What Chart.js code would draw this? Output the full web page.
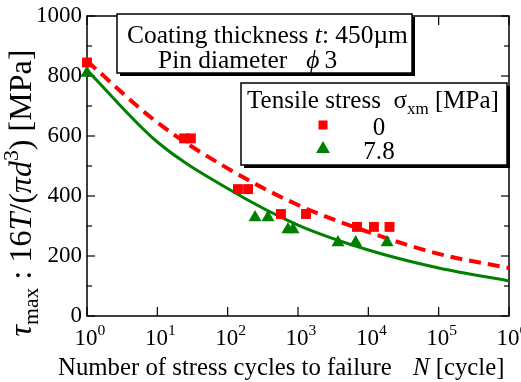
<!DOCTYPE html>
<html><head><meta charset="utf-8">
<script src="https://cdn.jsdelivr.net/npm/chart.js@4.4.1/dist/chart.umd.min.js"></script>
<style>html,body{margin:0;padding:0;background:#fff}canvas{display:block}</style>
</head><body>
<canvas id="c" width="521" height="382"></canvas>
<script>
// ---- data ----
const cyclesRed = [1, 24, 30, 140, 195, 573, 1300, 6900, 12000, 20000];
const stressRed = [845, 592, 592, 423, 423, 340, 340, 297, 297, 297];
const cyclesGreen = [1, 245, 374, 720, 850, 3700, 6600, 18500];
const stressGreen = [810, 328, 328, 288, 288, 245, 245, 245];
const fitCycles = [1, 10, 100, 1000, 10000, 100000, 1000000];
const fitRed = [850, 645, 492, 370, 280, 207, 160];
const fitGreen = [820, 580, 425, 303, 220, 160, 117];
const seriesLabels = ['0', '7.8'];
const yTicks = [0, 200, 400, 600, 800, 1000];
const yMinorStep = 100;
const xTickExponents = [0, 1, 2, 3, 4, 5, 6];

const RED = '#ff0000', GREEN = '#008000';
const SERIF = '"Liberation Serif","Times New Roman",serif';
function fnt(size, it){ return (it ? 'italic ' : '') + size + 'px ' + SERIF; }
function runsWidth(ctx, runs, size){ let w = 0; for (const r of runs){ ctx.font = fnt(size*(r.s||1), r.it); w += ctx.measureText(r.t).width; } return w; }
function drawRuns(ctx, runs, x, y, size){ let cx = x; for (const r of runs){ ctx.font = fnt(size*(r.s||1), r.it); ctx.fillText(r.t, cx, y + (r.dy||0)*size); cx += ctx.measureText(r.t).width; } return cx; }
function fitSize(ctx, runs, width){ return 100*width/runsWidth(ctx, runs, 100); }
function seg(ctx, x1, y1, x2, y2){ ctx.beginPath(); ctx.moveTo(x1, y1); ctx.lineTo(x2, y2); ctx.stroke(); }
function box(ctx, x, y, w, h){ ctx.fillStyle = '#000'; ctx.fillRect(x+3, y+3, w, h); ctx.fillStyle = '#fff'; ctx.fillRect(x, y, w, h); ctx.lineWidth = 1.5; ctx.strokeStyle = '#000'; ctx.strokeRect(x, y, w, h); }

const pts = (xs, ys) => xs.map((x, i) => ({x: x, y: ys[i]}));

const framePlugin = {
  id: 'frame',
  beforeDatasetsDraw(chart){
    const ctx = chart.ctx, {left, right, top, bottom} = chart.chartArea;
    const xs = chart.scales.x, ys = chart.scales.y;
    ctx.save();
    ctx.strokeStyle = '#000'; ctx.lineWidth = 1.5;
    ctx.strokeRect(left, top, right-left, bottom-top);
    ctx.lineWidth = 1.2;
    for (let v = ys.min; v <= ys.max; v += yMinorStep){
      const p = ys.getPixelForValue(v);
      const len = yTicks.includes(v) ? 8 : 5;
      seg(ctx, left, p, left+len, p); seg(ctx, right, p, right-len, p);
    }
    for (const e of xTickExponents){
      const p = xs.getPixelForValue(Math.pow(10, e));
      seg(ctx, p, bottom, p, bottom-9); seg(ctx, p, top, p, top+9);
    }
    // tick labels
    ctx.fillStyle = '#000';
    ctx.textAlign = 'right'; ctx.textBaseline = 'middle';
    ctx.font = fnt(23);
    for (const v of yTicks){ ctx.fillText(String(v), left-5, ys.getPixelForValue(v)); }
    ctx.textAlign = 'left'; ctx.textBaseline = 'alphabetic';
    for (const e of xTickExponents){
      const p = xs.getPixelForValue(Math.pow(10, e));
      const runs = [{t:'10'}, {t:String(e), s:0.68, dy:-0.42}];
      const w = runsWidth(ctx, runs, 23);
      drawRuns(ctx, runs, p - w/2 + 3, 345, 23);
    }
    ctx.restore();
  },
  afterDraw(chart){
    const ctx = chart.ctx;
    ctx.save();
    ctx.fillStyle = '#000'; ctx.textBaseline = 'alphabetic'; ctx.textAlign = 'left';
    // x title
    const xr1 = [{t:'Number of stress cycles to failure'}];
    const xsz = fitSize(ctx, xr1, 334);
    drawRuns(ctx, xr1, 58, 375, xsz);
    drawRuns(ctx, [{t:'N', it:1}, {t:' [cycle]'}], 413, 375, xsz);
    // y title
    const yr = [{t:'\u03c4', it:1}, {t:'max', s:0.68, dy:0.22}, {t:' : 16'}, {t:'T', it:1}, {t:'/('}, {t:'\u03c0', it:1}, {t:'d', it:1}, {t:'3', s:0.68, dy:-0.42}, {t:') [MPa]'}];
    const ysz = fitSize(ctx, yr, 287);
    ctx.save(); ctx.translate(31, 193); ctx.rotate(-Math.PI/2);
    drawRuns(ctx, yr, -143.5, 0, ysz);
    ctx.restore();
    // info box
    box(ctx, 117, 14, 295, 59);
    ctx.fillStyle = '#000';
    const l1 = [{t:'Coating thickness '}, {t:'t', it:1}, {t:': 450\u00b5m'}];
    const isz = fitSize(ctx, l1, 281);
    drawRuns(ctx, l1, 127, 43, isz);
    drawRuns(ctx, [{t:'Pin diameter   '}, {t:'\u03d5', it:1}, {t:'\u2009'}, {t:'3'}], 158, 68, isz);
    // legend box
    box(ctx, 241, 83, 266, 82);
    ctx.fillStyle = '#000';
    const lt = [{t:'Tensile stress  '}, {t:'\u03c3'}, {t:'xm', s:0.68, dy:0.25}, {t:' [MPa]'}];
    const lsz = fitSize(ctx, lt, 252);
    drawRuns(ctx, lt, 247, 108, lsz);
    const ds = chart.data.datasets;
    const rows = [{y:125, tb:135, r:6.4, d:ds[0]}, {y:149, tb:159, r:8, d:ds[1]}];
    rows.forEach((row, i) => {
      ctx.fillStyle = row.d.backgroundColor; ctx.strokeStyle = row.d.backgroundColor; ctx.lineWidth = 0.1;
      Chart.helpers.drawPoint(ctx, {pointStyle: row.d.pointStyle, rotation: 0, radius: row.r, borderWidth: 0}, 323, row.y);
      ctx.fillStyle = '#000'; ctx.textAlign = 'center'; ctx.font = fnt(lsz);
      ctx.fillText(seriesLabels[i], 379, row.tb);
      ctx.textAlign = 'left';
    });
    ctx.restore();
  }
};

new Chart(document.getElementById('c'), {
  type: 'scatter',
  data: {
    datasets: [
      {label: seriesLabels[0], data: pts(cyclesRed, stressRed), pointStyle: 'rect', pointRadius: 7, backgroundColor: RED, borderColor: RED, borderWidth: 0, showLine: false, clip: false, order: 0},
      {label: seriesLabels[1], data: pts(cyclesGreen, stressGreen), pointStyle: 'triangle', pointRadius: 7.5, backgroundColor: GREEN, borderColor: GREEN, borderWidth: 0, showLine: false, clip: false, order: 0},
      {label: 'fit0', data: pts(fitCycles, fitRed), showLine: true, borderColor: RED, borderWidth: 4, borderDash: [12, 7], pointRadius: 0, cubicInterpolationMode: 'monotone', order: 1},
      {label: 'fit7.8', data: pts(fitCycles, fitGreen), showLine: true, borderColor: GREEN, borderWidth: 3, pointRadius: 0, cubicInterpolationMode: 'monotone', order: 1}
    ]
  },
  options: {
    responsive: false, animation: false, events: [],
    layout: {padding: {left: 0, top: 16, right: 12, bottom: 0}},
    plugins: {legend: {display: false}, tooltip: {enabled: false}},
    scales: {
      x: {type: 'logarithmic', min: 1, max: 1e6, grid: {display: false}, border: {display: false}, ticks: {display: false}, afterFit(s){ s.height = 66; }},
      y: {type: 'linear', min: 0, max: 1000, grid: {display: false}, border: {display: false}, ticks: {display: false}, afterFit(s){ s.width = 87; }}
    }
  },
  plugins: [framePlugin]
});
</script>
</body></html>
